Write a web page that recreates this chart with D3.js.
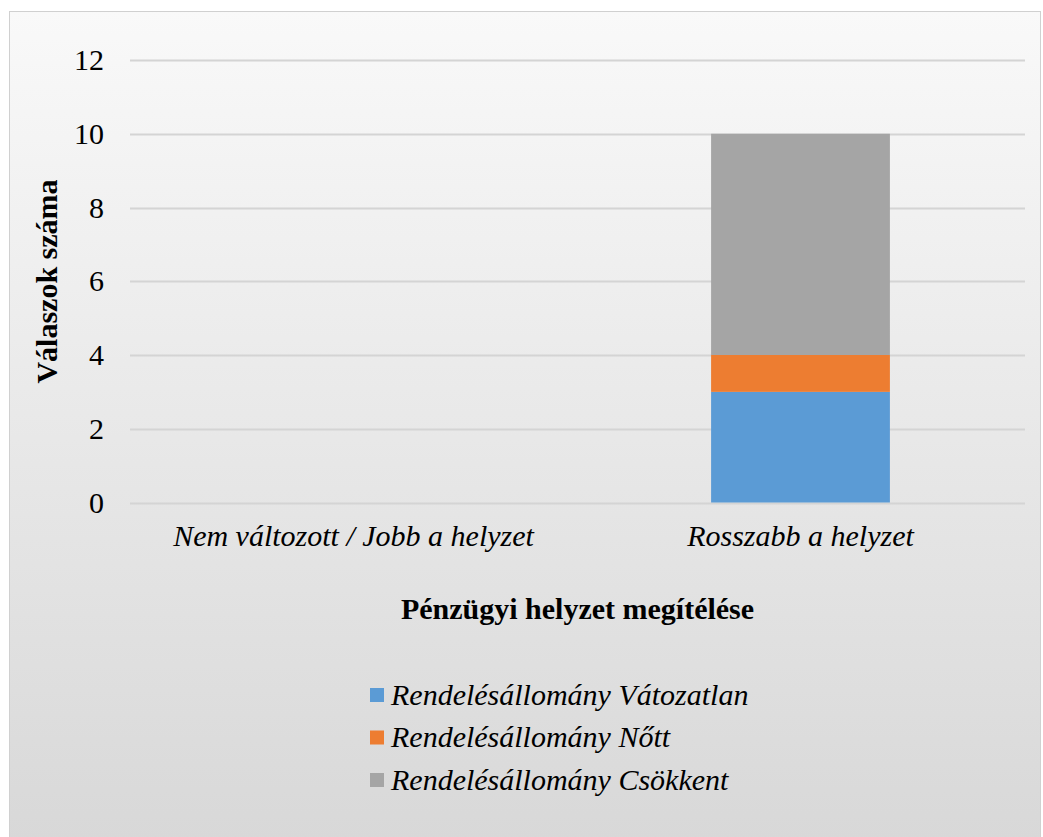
<!DOCTYPE html>
<html>
<head>
<meta charset="utf-8">
<script src="https://cdn.jsdelivr.net/npm/d3@7"></script>
<style>
  body { margin: 0; background: #fff; }
  text { font-family: "Liberation Serif", "Times New Roman", serif; fill: #000; }
</style>
</head>
<body>
<div id="viz"></div>
<script>
var categories = ["Nem változott / Jobb a helyzet", "Rosszabb a helyzet"];
var seriesNames = ["Rendelésállomány Vátozatlan", "Rendelésállomány Nőtt", "Rendelésállomány Csökkent"];
var valtozatlan = [0, 3];
var nott = [0, 1];
var csokkent = [0, 6];
var yTicks = [0, 2, 4, 6, 8, 10, 12];
var colors = ["#5b9bd5", "#ed7d31", "#a5a5a5"];

var width = 1043, height = 837;
var margin = {left: 130, right: 18, top: 60, bottom: 334};
var serif = "'Liberation Serif', 'Times New Roman', serif";

var svg = d3.select("#viz")
	.append("svg")
	.attr("width", width)
	.attr("height", height);

var grad = svg.append("defs").append("linearGradient")
	.attr("id", "bg")
	.attr("x1", 0).attr("y1", 0).attr("x2", 0).attr("y2", 1);
grad.append("stop").attr("offset", "0%").attr("stop-color", "#f9f9f9");
grad.append("stop").attr("offset", "100%").attr("stop-color", "#d8d8d8");

svg.append("rect")
	.attr("x", 9.5).attr("y", 11.5)
	.attr("width", width - 12).attr("height", height - 8)
	.attr("fill", "url(#bg)")
	.attr("stroke", "#d0d0d0");

var rows = categories.map((c, i) => ({cat: c, s0: valtozatlan[i], s1: nott[i], s2: csokkent[i]}));
var stack = d3.stack().keys(["s0", "s1", "s2"])(rows);

var x = d3.scaleBand()
	.domain(categories)
	.range([margin.left, width - margin.right - 1])
	.paddingInner(0.6)
	.paddingOuter(0.3);

var y = d3.scaleLinear()
	.domain([0, 12])
	.range([height - margin.bottom - 0.5, margin.top]);

// gridlines
svg.append("g")
	.selectAll("line")
	.data(yTicks)
	.enter()
	.append("line")
	.attr("x1", margin.left)
	.attr("x2", width - margin.right)
	.attr("y1", d => Math.round(y(d)) + 0.5)
	.attr("y2", d => Math.round(y(d)) + 0.5)
	.attr("stroke", "#d4d4d4")
	.attr("stroke-width", 2);

// y axis labels
var yAxis = d3.axisLeft(y).tickValues(yTicks).tickSize(0).tickPadding(0);
var gy = svg.append("g")
	.attr("transform", "translate(104,0)")
	.call(yAxis);
gy.attr("font-family", serif).attr("font-size", 30);
gy.select(".domain").remove();
gy.selectAll("text").attr("fill", "#000");

// bars
svg.append("g")
	.selectAll("g")
	.data(stack)
	.enter()
	.append("g")
	.attr("fill", (d, i) => colors[i])
	.selectAll("rect")
	.data(d => d)
	.enter()
	.append("rect")
	.attr("x", d => x(d.data.cat))
	.attr("width", x.bandwidth())
	.attr("y", d => y(d[1]))
	.attr("height", d => y(d[0]) - y(d[1]));

// category labels
var xAxis = d3.axisBottom(x).tickSize(0).tickPadding(0);
var gx = svg.append("g")
	.attr("transform", "translate(0,525)")
	.call(xAxis);
gx.attr("font-family", serif).attr("font-size", 30);
gx.select(".domain").remove();
gx.selectAll("text")
	.style("font-style", "italic")
	.attr("fill", "#000");

// axis titles
svg.append("text")
	.attr("x", (margin.left + width - margin.right) / 2)
	.attr("y", 619)
	.attr("text-anchor", "middle")
	.style("font-size", "30px")
	.style("font-weight", "bold")
	.text("Pénzügyi helyzet megítélése");

svg.append("text")
	.attr("transform", "translate(57," + ((margin.top + height - margin.bottom) / 2) + ") rotate(-90)")
	.attr("text-anchor", "middle")
	.style("font-size", "30px")
	.style("font-weight", "bold")
	.text("Válaszok száma");

// legend
var legend = svg.append("g")
	.selectAll("g")
	.data(seriesNames)
	.enter()
	.append("g")
	.attr("transform", (d, i) => "translate(370," + (695 + i * 42.5) + ")");

legend.append("rect")
	.attr("x", 0).attr("y", -7)
	.attr("width", 14).attr("height", 14)
	.attr("fill", (d, i) => colors[i]);

legend.append("text")
	.attr("x", 21)
	.attr("y", 0)
	.attr("dy", "0.33em")
	.style("font-size", "30px")
	.style("font-style", "italic")
	.text(d => d);
</script>
</body>
</html>
